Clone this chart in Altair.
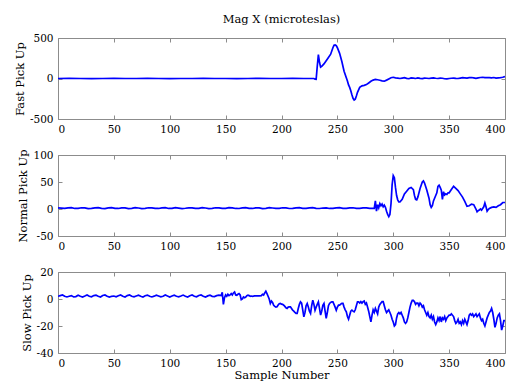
import altair as alt
import pandas as pd

# ---------------- data ----------------
fast_x = [0, 10, 20, 30, 40, 50, 60, 70, 80, 90, 100, 110, 120, 130, 140, 150, 160, 170, 180, 190,
          200, 210, 220, 228, 229, 230, 231, 232, 233, 234, 235, 236, 237, 238, 240, 242, 244, 246,
          247, 248, 249, 250, 252, 254, 256, 258, 259, 260, 261, 262, 263, 264, 265, 266, 267, 268,
          270, 272, 274, 276, 278, 280, 282, 284, 286, 288, 290, 292, 294, 296, 298, 300, 302, 304,
          306, 308, 310, 312, 314, 316, 318, 320, 322, 324, 326, 328, 330, 332, 334, 336, 338, 340,
          342, 344, 346, 348, 350, 352, 354, 356, 358, 360, 362, 364, 366, 368, 370, 372, 374, 376,
          378, 380, 382, 384, 386, 388, 390, 392, 394, 396, 398, 400]
fast_y = [0, 1, 0, -1, 0, 1, 0, 0, 1, 0, -1, 0, 0, 1, 0, 0, -1, 0, 1, 0,
          0, 1, 0, 0, 0, -8, -10, 150, 295, 200, 140, 150, 165, 180, 220, 260, 300, 380,
          410, 415, 405, 380, 310, 210, 90, 10, -30, -80, -110, -150, -200, -245, -265, -255, -215, -170,
          -110, -90, -85, -75, -55, -35, -20, -12, -15, -22, -30, -33, -20, -5, 10, 15, 8, 5,
          0, 5, 10, 2, -3, 8, 5, 0, 8, 2, -2, 5, 3, 0, 5, 8, 3, 0,
          5, 3, -3, -5, 0, 3, 5, 2, 0, 5, 10, 8, 5, 10, 12, 8, 2, 8,
          12, 15, 10, 12, 10, 8, 12, 5, 8, 10, 15, 25]

normal_x = [0, 3, 6, 9, 12, 15, 18, 21, 24, 27, 30, 33, 36, 39, 42, 45, 48, 51, 54, 57, 60, 63, 66,
            69, 72, 75, 78, 81, 84, 87, 90, 93, 96, 99, 102, 105, 108, 111, 114, 117, 120, 123, 126,
            129, 132, 135, 138, 141, 144, 147, 150, 153, 156, 159, 162, 165, 168, 171, 174, 177, 180,
            183, 186, 189, 192, 195, 198, 201, 204, 207, 210, 213, 216, 219, 222, 225, 228, 231, 234,
            237, 240, 243, 246, 249, 252, 255, 258, 261, 264, 267, 270, 273, 276, 279, 282,
            283, 284, 285, 286, 287, 288, 289, 290, 291, 292, 293, 294, 295, 296, 297, 298, 299, 300,
            301, 302, 303, 304, 305, 306, 308, 310, 312, 314, 316, 318, 319, 320, 321, 322, 324, 326,
            327, 328, 330, 332, 333, 334, 335, 336, 338, 339, 340, 341, 342, 343, 344, 345, 346, 347,
            348, 349, 350, 352, 354, 356, 358, 360, 362, 364, 366, 368, 370, 372, 374, 375, 376, 377,
            378, 379, 380, 381, 382, 383, 384, 385, 386, 388, 390, 392, 394, 396, 398, 400]
normal_y = [2, 1.5, 1, 2, 2.5, 1, 1.2, 2.3, 2, 0.8, 1, 2, 2.4, 1.2, 0.8, 2, 2.5, 1.2, 1, 2.2, 2, 0.8, 1.3,
            2.4, 1.8, 0.8, 1.2, 2.3, 2.1, 1, 1, 2.2, 2.4, 1, 1.1, 2.5, 1.6, 0.8, 1.4, 2.2, 2, 1, 1.2,
            2.4, 1.8, 0.8, 1.3, 2.3, 2, 1, 1.1, 2.4, 2.2, 1, 0.9, 2, 2.5, 1.2, 1, 2.2, 2,
            0.8, 1.3, 2.4, 1.8, 1, 1.2, 2.3, 2, 0.9, 1.1, 2.2, 2.4, 1.2, 1, 2, 2.5, 1.2, 0.9,
            1.8, 2.2, 1, 1, 2, 2.4, 1.2, 1, 2.1, 2.3, 1.1, 1, 2, 2.2, 1.2, 1,
            1, 15, -4, 8, 2, 10, 6, 9, 4, 7, 3, -4, -10, -14, -10, 10, 45, 62,
            58, 40, 25, 17, 13, 13, 18, 28, 33, 38, 40, 36, 25, 18, 17, 22, 38, 50,
            52, 48, 35, 20, 8, 3, 6, 15, 25, 30, 42, 44, 40, 35, 18, 32, 26, 28,
            27, 30, 30, 36, 42, 38, 34, 28, 22, 14, 5, 6, 9, 8, 0, -5, -3, -2,
            0, -2, 1, 4, 11, 4, -4, -1, 1, 3, 4, 3, 6, 8, 12, 12]

slow_x = [0, 2, 4, 6, 8, 10, 12, 14, 16, 18, 20, 22, 24, 26, 28, 30, 32, 34, 36, 38, 40, 42, 44, 46,
          48, 50, 52, 54, 56, 58, 60, 62, 64, 66, 68, 70, 72, 74, 76, 78, 80, 82, 84, 86, 88, 90, 92,
          94, 96, 98, 100, 102, 104, 106, 108, 110, 112, 114, 116, 118, 120, 122, 124, 126, 128, 130,
          132, 134, 136, 138, 140, 142, 144, 146, 147, 148, 149, 150, 151, 152, 153, 154, 155, 156,
          157, 158, 159, 160, 161, 162, 163, 164, 165, 166, 167, 168, 169, 170, 171, 172, 173, 174,
          176, 178, 180, 182, 183, 184, 185, 186, 187, 188, 189,
          190, 191, 192, 193, 194, 195, 196, 197, 198, 199, 200, 201, 202, 203, 204, 205, 206, 207,
          208, 209, 210, 211, 212, 213, 214, 215, 216, 217, 218, 219, 220, 221, 222, 223, 224, 225,
          226, 227, 228, 229, 230, 231, 232, 233, 234, 235, 236, 237, 238, 239, 240, 241, 242, 243,
          244, 245, 246, 247, 248, 249, 250, 251, 252, 253, 254, 255, 256, 257, 258, 259, 260, 261,
          262, 263, 264, 265, 266, 267, 268, 269, 270, 271, 272, 273, 274, 275, 276, 277, 278, 279,
          280, 281, 282, 283, 284, 285, 286, 287, 288, 289, 290, 291, 292, 293, 294, 295, 296, 297,
          298, 299, 300, 301, 302, 303, 304, 305, 306, 307, 308, 309, 310, 311, 312, 313, 314, 315,
          316, 317, 318, 319, 320, 321, 322, 323, 324, 325, 326, 327, 328, 329, 330, 331, 332, 333,
          334, 335, 336, 337, 338, 339, 340, 341, 342, 343, 344, 345, 346, 347, 348, 349, 350, 351,
          352, 353, 354, 355, 356, 357, 358, 359, 360, 361, 362, 363, 364, 365, 366, 367, 368, 369,
          370, 371, 372, 373, 374, 375, 376, 377, 378, 379, 380, 381, 382, 383, 384, 385, 386, 387,
          388, 389, 390, 391, 392, 393, 394, 395, 396, 397, 398, 399, 400]
slow_y = [2, 2.5, 3, 2, 1.5, 2, 2.5, 1.5, 1.8, 2.8, 2, 1.5, 2.2, 3, 2, 1.6, 2.5, 2.8, 2, 1.5, 2.6, 3, 2, 1.4,
          2, 2.2, 1.6, 2.4, 3, 2, 1.5, 2.5, 3, 2, 1.6, 2.2, 2.8, 2, 1.5, 2.4, 2.9, 2, 1.5, 2.1, 2.8, 2.2, 1.6,
          2, 3, 2.2, 1.5, 2.2, 2.8, 2, 1.6, 2.2, 2.9, 2, 1.5, 2.4, 3, 2, 1.6, 2.6, 3, 2,
          1.5, 2.3, 2.8, 2, 1.8, 2.5, 2.8, 2.5, 5, -4, 1, 3, 2, 3.5, 2.5, 3, 4, 3,
          4.5, 5.2, 3, 2.8, 3.5, 4, 3, -0.5, 0, 1.5, 1, 1.5, 2.5, 2.8, 2.5, 2, 2.2, 2,
          2.3, 2.3, 2.3, 2.5, 3.5, 3, 4.5, 5.8, 4, 2, 0,
          -3.3, -1.5, -2.5, -4.6, -5.5, -6, -5.8, -4.5, -3.5, -3.3, -3.8, -4, -4.6, -5.5, -6.5, -7, -6, -5.8,
          -5.8, -7, -8.3, -9, -10, -10.7, -10.7, -7, -4, -2.1, -3, -8, -13.2, -10, -5, -3.3, -6, -9,
          -10.7, -5, -0.9, -4, -8.3, -6, -4, -2.1, -7, -11.9, -9, -4.6, -3.3, -9, -14.4, -10, -5, -3.3,
          -2.5, -2.1, -2.1, -4, -6, -8.3, -6, -4.6, -4.6, -3.8, -3.3, -3.3, -6, -8, -9.5, -13, -15, -12,
          -9, -8.3, -9, -9.5, -8, -5, -2.1, -2.1, -3, -2, -3, -2, -1.5, -4, -3, -6, -9, -13,
          -17, -12, -8, -10, -7, -9, -11, -6, -4, -3, -2, -2, -5, -8, -10, -9, -8, -10,
          -12, -15, -17, -20, -19, -14, -11, -10, -11, -10, -12, -14, -17, -18, -17, -14, -10, -6,
          -3, -1, -1, -2, -4, -3, -3, -5, -3, -4, -6, -5, -8, -10, -12, -10, -13, -14,
          -12, -15, -13, -17, -19, -17, -14, -16, -13, -17, -14, -15, -13, -16, -14, -13, -12, -12,
          -11, -12, -13, -16, -18, -17, -15, -18, -17, -19, -16, -18, -15, -17, -19, -16, -12, -11,
          -12, -11, -13, -12, -11, -13, -12, -11, -14, -16, -15, -18, -20, -17, -14, -12, -10, -9,
          -7, -10, -15, -21, -18, -14, -12, -11, -16, -23, -20, -16, -16]

x_ticks = [0, 50, 100, 150, 200, 250, 300, 350, 400]
fast_ticks = [-500, 0, 500]
normal_ticks = [-50, 0, 50, 100]
slow_ticks = [-40, -20, 0, 20]

FONT = "DejaVu Serif"
BOX = "#8c8c8c"
W, H = 447, 81
LABEL_EXPR = "'' + datum.value"


def panel(xs, ys, ytitle, ydomain, yticks, xtitle=None, title=None):
    df = pd.DataFrame({"s": xs, "v": ys})
    base = alt.Chart(df)
    xs_ = alt.Scale(domain=[0, 400], nice=False, zero=False)
    ys_ = alt.Scale(domain=ydomain, nice=False, zero=False)
    xaxis_kw = dict(values=x_ticks, orient="bottom", ticks=False, domain=False,
                    labelPadding=5, grid=False, labelFont=FONT, labelFontSize=10.5,
                    labelColor="#000000", titleFont=FONT, titleFontSize=11.5,
                    titleFontWeight="normal", titleColor="#000000", titlePadding=1,
                    labelExpr=LABEL_EXPR)
    line = base.mark_line(color="#0000ff", strokeWidth=1.7, clip=True).encode(
        x=alt.X("s:Q", scale=xs_,
                axis=alt.Axis(title=xtitle, **xaxis_kw) if xtitle else alt.Axis(title=None, **xaxis_kw)),
        y=alt.Y("v:Q", scale=ys_,
                axis=alt.Axis(values=yticks, orient="left", ticks=False, domain=False,
                              labelPadding=5, grid=False, title=ytitle, titlePadding=4,
                              labelFont=FONT, labelFontSize=10.5, labelColor="#000000",
                              titleFont=FONT, titleFontSize=11.5, titleFontWeight="normal",
                              titleColor="#000000", labelExpr=LABEL_EXPR)),
    )
    ticks_a = base.mark_line(opacity=0).encode(
        x=alt.X("s:Q", scale=xs_,
                axis=alt.Axis(values=x_ticks, orient="bottom", labels=False, domain=False,
                              tickSize=4, offset=-4, title=None, grid=False,
                              tickColor=BOX, tickWidth=1)),
        y=alt.Y("v:Q", scale=ys_,
                axis=alt.Axis(values=yticks, orient="left", labels=False, domain=False,
                              tickSize=4, offset=-4, title=None, grid=False,
                              tickColor=BOX, tickWidth=1)),
    )
    ticks_b = base.mark_line(opacity=0).encode(
        x=alt.X("s:Q", scale=xs_,
                axis=alt.Axis(values=x_ticks, orient="top", labels=False, domain=False,
                              tickSize=4, offset=-4, title=None, grid=False,
                              tickColor=BOX, tickWidth=1)),
        y=alt.Y("v:Q", scale=ys_,
                axis=alt.Axis(values=yticks, orient="right", labels=False, domain=False,
                              tickSize=4, offset=-4, title=None, grid=False,
                              tickColor=BOX, tickWidth=1)),
    )
    props = dict(width=W, height=H)
    if title:
        props["title"] = alt.Title(title, font=FONT, fontSize=11.5, fontWeight="normal",
                                   color="#000000", offset=8, anchor="middle")
    return (alt.layer(line, ticks_a, ticks_b)
            .resolve_axis(x="independent", y="independent")
            .properties(**props))


p1 = panel(fast_x, fast_y, "Fast Pick Up", [-500, 500], fast_ticks, title="Mag X (microteslas)")
p2 = panel(normal_x, normal_y, "Normal Pick Up", [-50, 100], normal_ticks)
p3 = panel(slow_x, slow_y, "Slow Pick Up", [-40, 20], slow_ticks, xtitle="Sample Number")

chart = (alt.vconcat(p1, p2, p3, spacing=36, bounds="flush")
         .properties(padding={"left": 5, "top": 5, "right": 0, "bottom": 0},
                     background="#ffffff")
         .configure_view(stroke=BOX, strokeWidth=1))

chart.save("out.html", embed_options={"renderer": "svg", "actions": False})
